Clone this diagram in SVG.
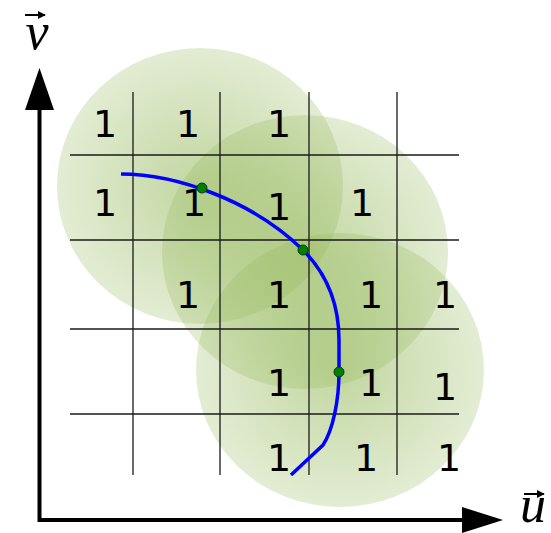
<svg xmlns="http://www.w3.org/2000/svg" width="551" height="533" viewBox="0 0 551 533">
<style>
.grid line{stroke:#1a1a1a;stroke-width:1.3}
.one{font-family:"DejaVu Sans",sans-serif;font-size:38px;fill:#000;text-anchor:middle}
.axis{stroke:#000;stroke-width:4;fill:none}
.vec{font-family:"Liberation Serif",serif;font-style:italic;font-size:52px;fill:#000;text-anchor:middle}
.dot{fill:#008000;stroke:#0a3a0a;stroke-width:1}
</style>
<defs>
<radialGradient id="g" cx="0.5" cy="0.5" r="0.5">
<stop offset="0" stop-color="#8fb552" stop-opacity="0.55"/>
<stop offset="1" stop-color="#8fb552" stop-opacity="0.25"/>
</radialGradient>
<marker id="sa" viewBox="0 0 10 10" refX="9" refY="5" markerWidth="4" markerHeight="4" orient="auto" markerUnits="strokeWidth">
<path d="M0,0 L10,5 L0,10 Z" fill="#000"/>
</marker>
</defs>
<rect width="551" height="533" fill="#fff"/>
<g id="blobs">
<ellipse cx="200" cy="186" rx="143" ry="138" fill="url(#g)"/>
<ellipse cx="305" cy="252" rx="143" ry="137" fill="url(#g)"/>
<ellipse cx="340" cy="370" rx="144" ry="137" fill="url(#g)"/>
</g>
<g id="grid" class="grid">
<line x1="133" y1="92" x2="133" y2="475"/>
<line x1="220" y1="92" x2="220" y2="475"/>
<line x1="309" y1="92" x2="309" y2="475"/>
<line x1="397" y1="92" x2="397" y2="475"/>
<line x1="70" y1="155" x2="459" y2="155"/>
<line x1="70" y1="240" x2="459" y2="240"/>
<line x1="70" y1="329" x2="459" y2="329"/>
<line x1="70" y1="414" x2="459" y2="414"/>
</g>
<g id="labels">
<text class="one" x="105" y="137">1</text>
<text class="one" x="188" y="137">1</text>
<text class="one" x="279" y="137">1</text>
<text class="one" x="105" y="216">1</text>
<text class="one" x="194" y="216">1</text>
<text class="one" x="279" y="220">1</text>
<text class="one" x="362" y="216">1</text>
<text class="one" x="188" y="308">1</text>
<text class="one" x="279" y="308">1</text>
<text class="one" x="371" y="308">1</text>
<text class="one" x="445" y="308">1</text>
<text class="one" x="279" y="396">1</text>
<text class="one" x="371" y="396">1</text>
<text class="one" x="445" y="400">1</text>
<text class="one" x="279" y="471">1</text>
<text class="one" x="366" y="471">1</text>
<text class="one" x="449" y="471">1</text>
</g>
<g id="connectors">
<path d="M121,174 C175,174 252,200 303,250 C328,275 339,305 339,340 L339,372 C339,400 333,430 323,445 L291,475" fill="none" stroke="#0000ff" stroke-width="3.5"/>
</g>
<g id="points">
<circle class="dot" cx="202" cy="188" r="5"/>
<circle class="dot" cx="303" cy="250" r="5"/>
<circle class="dot" cx="339" cy="372" r="5"/>
</g>
<g id="axes">
<path class="axis" d="M39.5,108 L39.5,520 L463,520"/>
<polygon points="39.5,68 25,110 54,110" fill="#000"/>
<polygon points="503,520 462,507 462,533" fill="#000"/>
</g>
<g id="axis-v">
<text class="vec" x="37" y="49">v</text>
<line x1="25" y1="15" x2="45" y2="15" stroke="#000" stroke-width="2" marker-end="url(#sa)"/>
</g>
<g id="axis-u">
<text class="vec" x="533" y="522" font-size="44">u</text>
<line x1="524" y1="494" x2="544" y2="494" stroke="#000" stroke-width="2" marker-end="url(#sa)"/>
</g>
</svg>
